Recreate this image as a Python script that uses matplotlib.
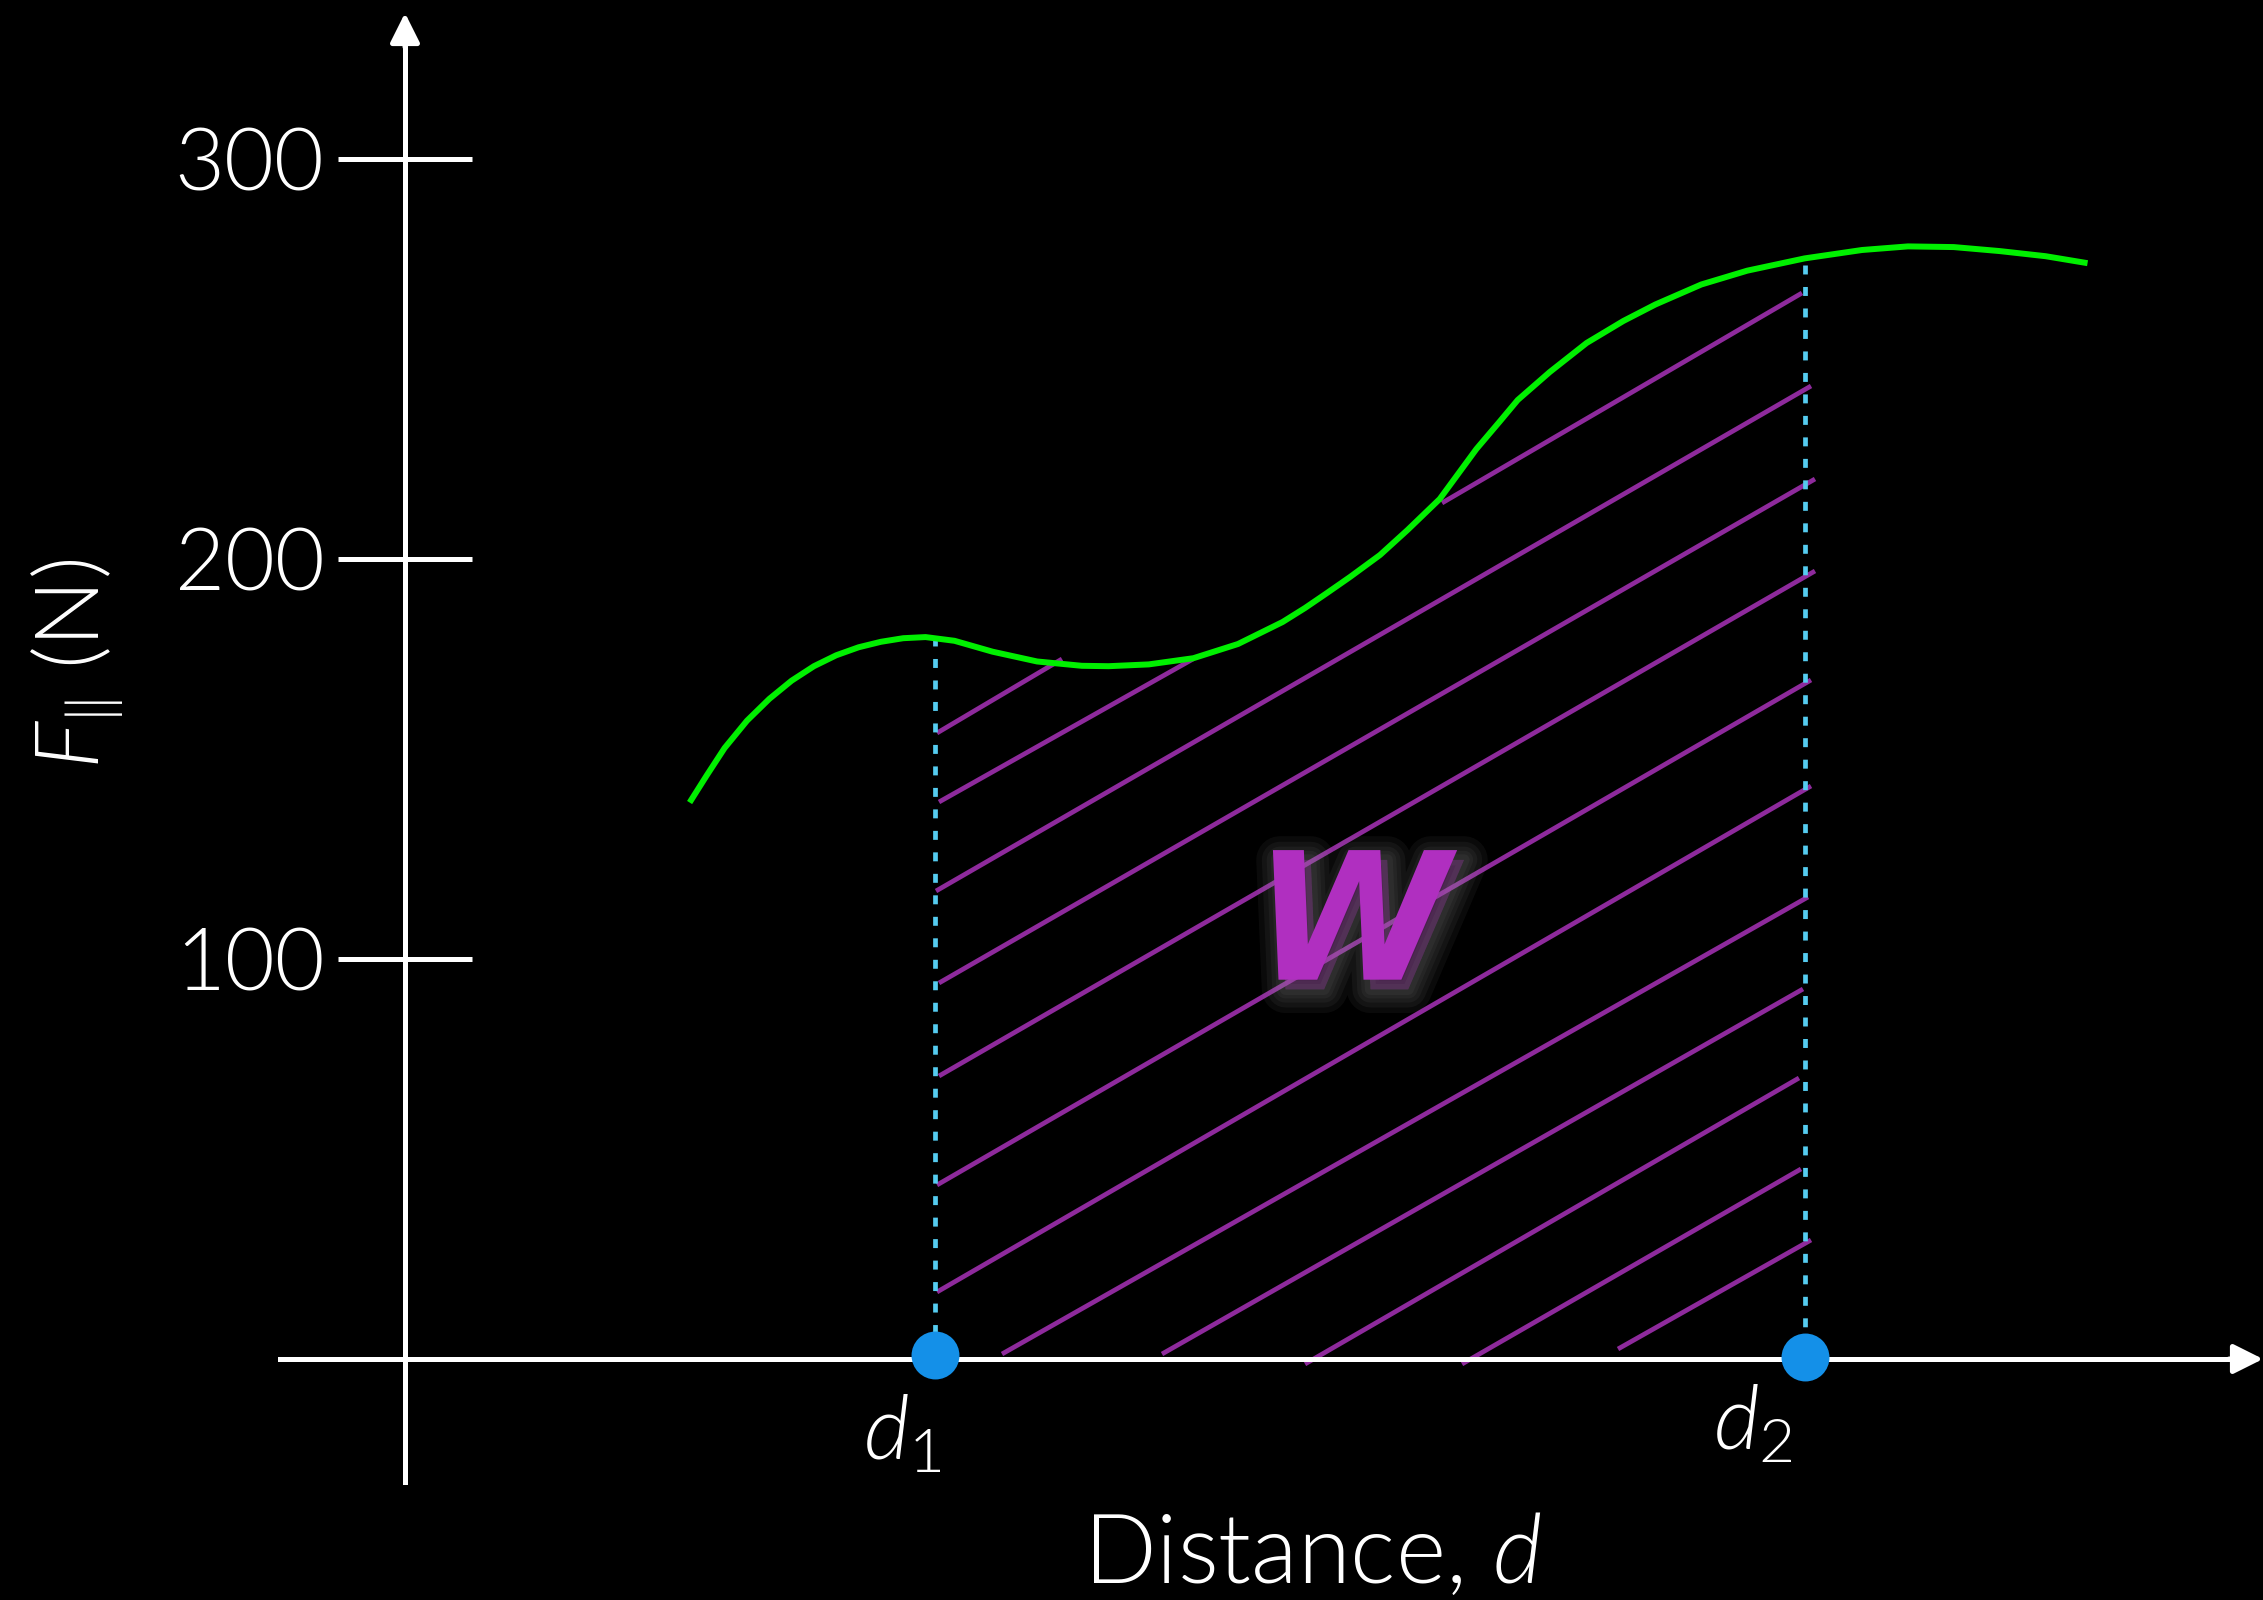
import matplotlib.pyplot as plt
import matplotlib.patheffects as pe

# Force-distance curve (x in arbitrary distance units, y in N)
curve_x = [71.55, 75.45, 79.9, 85.5, 91.08, 96.65, 102.23, 107.8, 113.4, 118.98, 124.55, 130.13,
           137.38, 146.88, 158.03, 169.2, 175.88, 185.93, 197.1, 208.25, 219.4, 225, 230.5, 236.25,
           243.75, 250.63, 258.68, 267.85, 273.58, 278.18, 286.2, 295.4, 304.58, 312.6, 324.08,
           335.55, 349.9, 364.25, 375.73, 387.2, 398.68, 410.15, 419.9]
curve_y = [139.75, 145.93, 152.75, 159.58, 165.03, 169.58, 173.2, 175.93, 177.93, 179.3, 180.2, 180.48,
           179.55, 176.83, 174.38, 173.3, 173.2, 173.65, 175.2, 178.75, 184.25, 187.75, 191.5, 195.5,
           201, 207.25, 215, 227.5, 234.25, 239.75, 246.75, 254, 259.5, 263.63, 268.63,
           272.08, 275.15, 277.25, 278.15, 277.98, 276.98, 275.7, 274.08]

# d1 and d2 markers, and where the dashed guides meet the curve
d_x = [132.5, 350]
d_y = [1, 0.5]
d_top = [180.5, 273.6]
d_labels = [r'$d_1$', r'$d_2$']

# hand drawn hatch strokes under the curve (start / end points)
hatch_x0 = [133, 133.5, 259.25, 132.75, 133.5, 133.5, 133, 133, 149.25, 189.25, 225, 264.25, 303.25]
hatch_y0 = [156.5, 139.25, 214, 117, 94, 70.75, 43.5, 16.75, 1.25, 1.25, -1.25, -1.25, 2.5]
hatch_x1 = [164.25, 197, 349.25, 351.5, 352.5, 352.5, 351.5, 351.5, 350.75, 349.5, 348.5, 349, 351.5]
hatch_y1 = [175, 175, 266.5, 243.25, 220, 197, 169.75, 143.25, 115.5, 92.5, 70.25, 47.5, 29.75]

y_ticks = [100, 200, 300]
y_tick_labels = ['100', '200', '300']

plt.rcParams['font.family'] = ['Lato', 'DejaVu Sans']
plt.rcParams['font.weight'] = 300
plt.rcParams['mathtext.fontset'] = 'custom'
plt.rcParams['mathtext.rm'] = 'Lato:weight=300'
plt.rcParams['mathtext.it'] = 'Lato:italic:weight=300'

fig = plt.figure(figsize=(22.63, 16), dpi=100)
fig.patch.set_facecolor('black')
ax = fig.add_axes([0, 0, 1, 1])
ax.set_facecolor('black')
ax.set_xlim(-101.25, 464.5)
ax.set_ylim(-60.25, 339.75)

# axes through the origin
for side in ['top', 'right']:
    ax.spines[side].set_visible(False)
ax.spines['left'].set_position(('data', 0))
ax.spines['bottom'].set_position(('data', 0))
ax.spines['left'].set_bounds(-30.75, 331)
ax.spines['bottom'].set_bounds(-31.25, 460)
for side in ['left', 'bottom']:
    ax.spines[side].set_color('white')
    ax.spines[side].set_linewidth(3.6)

ax.set_xticks([])
ax.set_yticks(y_ticks)
ax.set_yticklabels(y_tick_labels)
ax.tick_params(axis='y', direction='inout', length=96, width=3.6, colors='white',
               labelsize=62, pad=10)

# arrow heads
arrow = dict(arrowstyle='-|>,head_length=0.5,head_width=0.25', mutation_scale=36,
             color='white', lw=3.6, shrinkA=0, shrinkB=0)
ax.annotate('', xy=(0, 336.5), xytext=(0, 328), arrowprops=arrow, annotation_clip=False)
ax.annotate('', xy=(464.5, 0), xytext=(456, 0), arrowprops=arrow, annotation_clip=False)

# hatching for the work area
for i in range(len(hatch_x0)):
    ax.plot([hatch_x0[i], hatch_x1[i]], [hatch_y0[i], hatch_y1[i]], color='#8E2A9C',
            lw=3.4, solid_capstyle='butt', zorder=1)

ax.plot(curve_x, curve_y, color='#00F000', lw=4.3, zorder=3)

# dashed guides + the d1/d2 dots
for i in range(len(d_x)):
    ax.plot([d_x[i], d_x[i]], [d_top[i], 0], color='#55CCF0', lw=3.4,
            linestyle=(0, (1.9, 2.65)), zorder=2)
ax.plot(d_x, d_y, 'o', color='#1490E8', ms=34.5, mew=0, zorder=5, clip_on=False)

ax.text(124.25, -25.25, d_labels[0], color='white', fontsize=64, ha='center', va='baseline')
ax.text(337, -22.75, d_labels[1], color='white', fontsize=64, ha='center', va='baseline')

# the W in the middle, with a soft grey glow
glow = [pe.Stroke(linewidth=w, foreground='#9a9a9a', alpha=0.07, offset=(5, -7))
        for w in [34, 26, 19, 13, 8]] + [pe.Normal()]
ax.text(236.75, 107.2, 'W', color='#B02FC0', fontsize=128, fontweight='bold',
        fontstyle='oblique', family='DejaVu Sans', ha='center', va='center', zorder=6,
        path_effects=glow)

ax.text(226.75, -56, r'Distance, $d$', color='white', fontsize=69, ha='center', va='baseline')
ax.text(-81.8, 173.75, r'$F_{\|}$ (N)', color='white', fontsize=64, rotation=90,
        ha='center', va='center')

plt.savefig('out.png', dpi=100, facecolor='black')
